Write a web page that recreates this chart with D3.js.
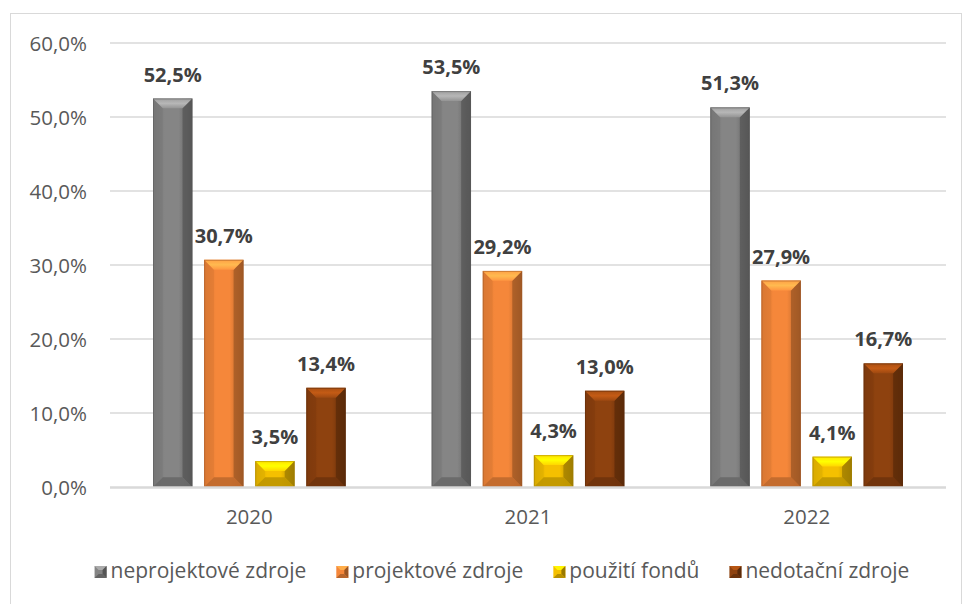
<!DOCTYPE html>
<html>
<head>
<meta charset="utf-8">
<script src="https://cdn.jsdelivr.net/npm/d3@7"></script>
<style>
html,body{margin:0;padding:0;background:#fff;}
svg{display:block;}
</style>
</head>
<body>
<svg id="chart" width="963" height="604"></svg>
<script>
const years = ["2020", "2021", "2022"];
const seriesNames = ["neprojektové zdroje", "projektové zdroje", "použití fondů", "nedotační zdroje"];
const seriesColors = ["#858585", "#f5873a", "#f5c000", "#8e420f"];
const neprojektove = [52.5, 53.5, 51.3];
const projektove = [30.7, 29.2, 27.9];
const fondy = [3.5, 4.3, 4.1];
const nedotacni = [13.4, 13.0, 16.7];
const yTicks = [0, 10, 20, 30, 40, 50, 60];
const seriesValues = [neprojektove, projektove, fondy, nedotacni];

const svg = d3.select("#chart");
const font = "'Open Sans', 'DejaVu Sans', sans-serif";

svg.append("rect").attr("x", 10.5).attr("y", 13.5).attr("width", 951).attr("height", 620)
  .attr("fill", "#fff").attr("stroke", "#d9d9d9").attr("stroke-width", 1);

const left = 110, right = 946;
const y = d3.scaleLinear().domain([0, 60]).range([487, 43]);
const x0 = d3.scaleBand().domain(years).range([left, right]).padding(0);
const x1 = d3.scaleBand().domain(d3.range(4)).range([43, x0.bandwidth() - 43]).paddingInner(0.23).paddingOuter(0);

const fmt = v => d3.format(".1f")(v).replace(".", ",");

// grid
svg.append("g").selectAll("line").data(yTicks.filter(t => t > 0)).join("line")
  .attr("x1", left).attr("x2", right)
  .attr("y1", d => y(d)).attr("y2", d => y(d))
  .attr("stroke", "#d9d9d9").attr("stroke-width", 1.5);

// y axis
const yAxis = d3.axisLeft(y).tickValues(yTicks).tickSize(0).tickPadding(0).tickFormat(d => fmt(d) + "%");
const yg = svg.append("g").attr("transform", `translate(87,0)`).call(yAxis);
yg.select(".domain").remove();
yg.selectAll("text").attr("font-family", font).attr("font-size", 20.5).attr("fill", "#595959").attr("dy", "0.35em");

// defs gradients
const defs = svg.append("defs");
seriesColors.forEach((c, i) => {
  const g = defs.append("linearGradient").attr("id", "hg" + i).attr("x1", 0).attr("x2", 1).attr("y1", 0).attr("y2", 0);
  const base = d3.color(c);
  g.append("stop").attr("offset", "0%").attr("stop-color", base.darker(0.4));
  g.append("stop").attr("offset", "30%").attr("stop-color", base);
  g.append("stop").attr("offset", "65%").attr("stop-color", base);
  g.append("stop").attr("offset", "100%").attr("stop-color", base.darker(1.0));
  const t = defs.append("linearGradient").attr("id", "tg" + i).attr("x1", 0).attr("x2", 0).attr("y1", 0).attr("y2", 1);
  t.append("stop").attr("offset", "0%").attr("stop-color", base.brighter(0.5));
  t.append("stop").attr("offset", "50%").attr("stop-color", base.brighter(0.9));
  t.append("stop").attr("offset", "100%").attr("stop-color", base.brighter(0.3));
});

// bars
const bars = [];
years.forEach((yr, gi) => {
  seriesValues.forEach((vals, si) => {
    bars.push({year: yr, si, v: vals[gi]});
  });
});

const barG = svg.append("g");
bars.forEach(d => {
  const bx = x0(d.year) + x1(d.si);
  const w = x1.bandwidth();
  const by = y(d.v);
  const h = y(0) - by;
  const b = Math.min(11, w / 4, h / 2);
  const base = d3.color(seriesColors[d.si]);
  const g = barG.append("g");
  g.append("rect").attr("x", bx).attr("y", by).attr("width", w).attr("height", h).attr("fill", `url(#hg${d.si})`);
  g.append("polygon").attr("points", [[bx, by], [bx + b, by + b], [bx + b, by + h - b], [bx, by + h]].join(" "))
    .attr("fill", base.darker(0.3)).attr("opacity", 0.6);
  g.append("polygon").attr("points", [[bx + w, by], [bx + w - b, by + b], [bx + w - b, by + h - b], [bx + w, by + h]].join(" "))
    .attr("fill", base.darker(1.3)).attr("opacity", 0.7);
  g.append("polygon").attr("points", [[bx, by], [bx + w, by], [bx + w - b, by + b], [bx + b, by + b]].join(" "))
    .attr("fill", `url(#tg${d.si})`);
  g.append("polygon").attr("points", [[bx, by + h], [bx + b, by + h - b], [bx + w - b, by + h - b], [bx + w, by + h]].join(" "))
    .attr("fill", base.darker(0.7)).attr("opacity", 0.9);
  g.append("rect").attr("x", bx + 0.5).attr("y", by + 0.5).attr("width", w - 1).attr("height", h - 1)
    .attr("fill", "none").attr("stroke", base.darker(1.2)).attr("stroke-width", 1).attr("opacity", 0.5);
  svg.append("text").attr("x", bx + w / 2).attr("y", by - 17)
    .attr("text-anchor", "middle").attr("font-family", font).attr("font-weight", "bold")
    .attr("font-size", 20).attr("fill", "#404040").text(fmt(d.v) + "%");
});

// baseline
svg.append("line").attr("x1", left).attr("x2", right).attr("y1", y(0) + 0.5).attr("y2", y(0) + 0.5)
  .attr("stroke", "#d9d9d9").attr("stroke-width", 2.5);

// x axis labels
const xAxis = d3.axisBottom(x0).tickSize(0).tickPadding(0);
const xg = svg.append("g").attr("transform", `translate(0,${y(0)})`).call(xAxis);
xg.select(".domain").remove();
xg.selectAll("text").attr("font-family", font).attr("font-size", 20.5).attr("fill", "#595959")
  .attr("dy", null).attr("y", 37);

// legend (centered, measured)
const lg = svg.append("g");
const s = 12, markGap = 4, itemGap = 30, my = 566, legendCenter = 502;
const items = seriesNames.map((n, i) => {
  const g = lg.append("g");
  const base = d3.color(seriesColors[i]);
  g.append("rect").attr("x", 0).attr("y", my).attr("width", s).attr("height", s).attr("fill", base);
  g.append("polygon").attr("points", [[0, my], [s, my], [s - 4, my + 4], [4, my + 4]].join(" ")).attr("fill", base.brighter(0.7));
  g.append("polygon").attr("points", [[s, my], [s - 4, my + 4], [s - 4, my + s - 4], [s, my + s]].join(" ")).attr("fill", base.darker(1.3));
  g.append("polygon").attr("points", [[0, my + s], [4, my + s - 4], [s - 4, my + s - 4], [s, my + s]].join(" ")).attr("fill", base.darker(0.8));
  const t = g.append("text").attr("x", s + markGap).attr("y", my + 6).attr("dominant-baseline", "middle")
    .attr("font-family", font).attr("font-size", 21).attr("fill", "#595959").text(n);
  return {g, w: s + markGap + t.node().getComputedTextLength()};
});
const total = d3.sum(items, d => d.w) + itemGap * (items.length - 1);
let cx = legendCenter - total / 2;
items.forEach(it => { it.g.attr("transform", `translate(${cx},0)`); cx += it.w + itemGap; });
</script>
</body>
</html>
